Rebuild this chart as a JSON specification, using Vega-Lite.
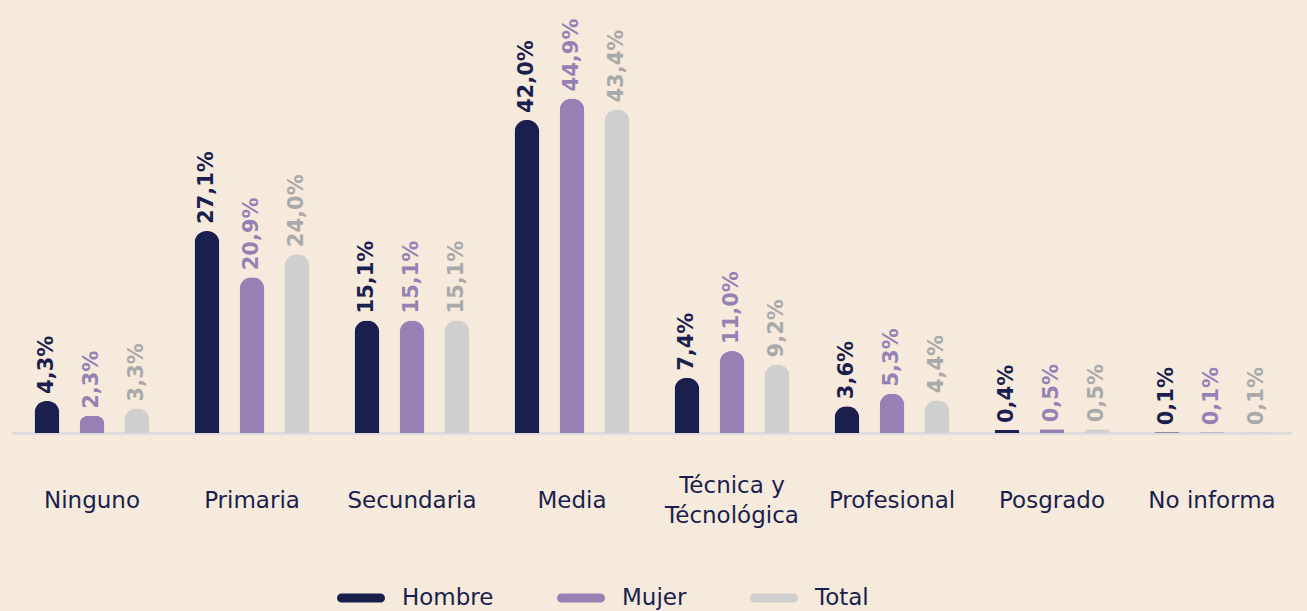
{
  "$schema": "https://vega.github.io/schema/vega-lite/v6.json",
  "autosize": {"type": "none"},
  "width": 1280,
  "height": 433,
  "padding": {"left": 12, "top": 0, "right": 15, "bottom": 178},
  "background": "#F5EADB",
  "config": {
    "view": {"stroke": null},
    "font": "DejaVu Sans"
  },
  "data": {
    "values": [
      {"nivel": "Ninguno", "grupo": "Hombre", "valor": 4.3, "etiqueta": "4,3%"},
      {"nivel": "Ninguno", "grupo": "Mujer", "valor": 2.3, "etiqueta": "2,3%"},
      {"nivel": "Ninguno", "grupo": "Total", "valor": 3.3, "etiqueta": "3,3%"},
      {"nivel": "Primaria", "grupo": "Hombre", "valor": 27.1, "etiqueta": "27,1%"},
      {"nivel": "Primaria", "grupo": "Mujer", "valor": 20.9, "etiqueta": "20,9%"},
      {"nivel": "Primaria", "grupo": "Total", "valor": 24.0, "etiqueta": "24,0%"},
      {"nivel": "Secundaria", "grupo": "Hombre", "valor": 15.1, "etiqueta": "15,1%"},
      {"nivel": "Secundaria", "grupo": "Mujer", "valor": 15.1, "etiqueta": "15,1%"},
      {"nivel": "Secundaria", "grupo": "Total", "valor": 15.1, "etiqueta": "15,1%"},
      {"nivel": "Media", "grupo": "Hombre", "valor": 42.0, "etiqueta": "42,0%"},
      {"nivel": "Media", "grupo": "Mujer", "valor": 44.9, "etiqueta": "44,9%"},
      {"nivel": "Media", "grupo": "Total", "valor": 43.4, "etiqueta": "43,4%"},
      {"nivel": "Técnica y Técnológica", "grupo": "Hombre", "valor": 7.4, "etiqueta": "7,4%"},
      {"nivel": "Técnica y Técnológica", "grupo": "Mujer", "valor": 11.0, "etiqueta": "11,0%"},
      {"nivel": "Técnica y Técnológica", "grupo": "Total", "valor": 9.2, "etiqueta": "9,2%"},
      {"nivel": "Profesional", "grupo": "Hombre", "valor": 3.6, "etiqueta": "3,6%"},
      {"nivel": "Profesional", "grupo": "Mujer", "valor": 5.3, "etiqueta": "5,3%"},
      {"nivel": "Profesional", "grupo": "Total", "valor": 4.4, "etiqueta": "4,4%"},
      {"nivel": "Posgrado", "grupo": "Hombre", "valor": 0.4, "etiqueta": "0,4%"},
      {"nivel": "Posgrado", "grupo": "Mujer", "valor": 0.5, "etiqueta": "0,5%"},
      {"nivel": "Posgrado", "grupo": "Total", "valor": 0.5, "etiqueta": "0,5%"},
      {"nivel": "No informa", "grupo": "Hombre", "valor": 0.1, "etiqueta": "0,1%"},
      {"nivel": "No informa", "grupo": "Mujer", "valor": 0.1, "etiqueta": "0,1%"},
      {"nivel": "No informa", "grupo": "Total", "valor": 0.1, "etiqueta": "0,1%"}
    ]
  },
  "encoding": {
    "x": {
      "field": "nivel",
      "type": "nominal",
      "sort": ["Ninguno", "Primaria", "Secundaria", "Media", "Técnica y Técnológica", "Profesional", "Posgrado", "No informa"],
      "scale": {"paddingInner": 0, "paddingOuter": 0},
      "axis": {
        "title": null,
        "labelAngle": 0,
        "ticks": false,
        "domainColor": "#DDDDDD",
        "domainWidth": 3,
        "labelFontSize": 23,
        "labelColor": "#1B1F4E",
        "labelBaseline": "middle",
        "labelPadding": {"condition": {"test": "datum.value == 'Técnica y Técnológica'", "value": 52}, "value": 67},
        "labelLineHeight": 30,
        "labelExpr": "datum.value == 'Técnica y Técnológica' ? ['Técnica y', 'Técnológica'] : datum.value"
      }
    },
    "xOffset": {
      "field": "grupo",
      "type": "nominal",
      "sort": ["Hombre", "Mujer", "Total"],
      "scale": {"paddingInner": 0.45, "paddingOuter": 0.5}
    },
    "y": {
      "field": "valor",
      "type": "quantitative",
      "scale": {"domain": [0, 58.1], "nice": false},
      "axis": null
    }
  },
  "layer": [
    {
      "mark": {"type": "bar", "cornerRadiusTopLeft": 12, "cornerRadiusTopRight": 12},
      "encoding": {
        "color": {
          "field": "grupo",
          "type": "nominal",
          "sort": ["Hombre", "Mujer", "Total"],
          "scale": {"domain": ["Hombre", "Mujer", "Total"], "range": ["#1B1F4E", "#9581B4", "#CFCFCF"]},
          "legend": {
            "title": null,
            "orient": "none",
            "direction": "horizontal",
            "legendX": 324,
            "legendY": 573,
            "symbolType": "M-0.81,-0.19 L0.81,-0.19 A0.19,0.19 0 0 1 0.81,0.19 L-0.81,0.19 A0.19,0.19 0 0 1 -0.81,-0.19 Z",
            "symbolSize": 2304,
            "symbolOpacity": 1,
            "labelFontSize": 23,
            "labelColor": "#1B1F4E",
            "labelOffset": 16,
            "columnPadding": 62
          }
        }
      }
    },
    {
      "mark": {"type": "text", "angle": 270, "align": "left", "baseline": "middle", "dx": 7, "fontSize": 21, "fontWeight": "bold"},
      "encoding": {
        "text": {"field": "etiqueta"},
        "color": {
          "field": "grupo",
          "type": "nominal",
          "scale": {"domain": ["Hombre", "Mujer", "Total"], "range": ["#1B1F4E", "#9581B4", "#A9A9A9"]},
          "legend": null
        }
      }
    }
  ],
  "resolve": {"scale": {"color": "independent"}}
}
